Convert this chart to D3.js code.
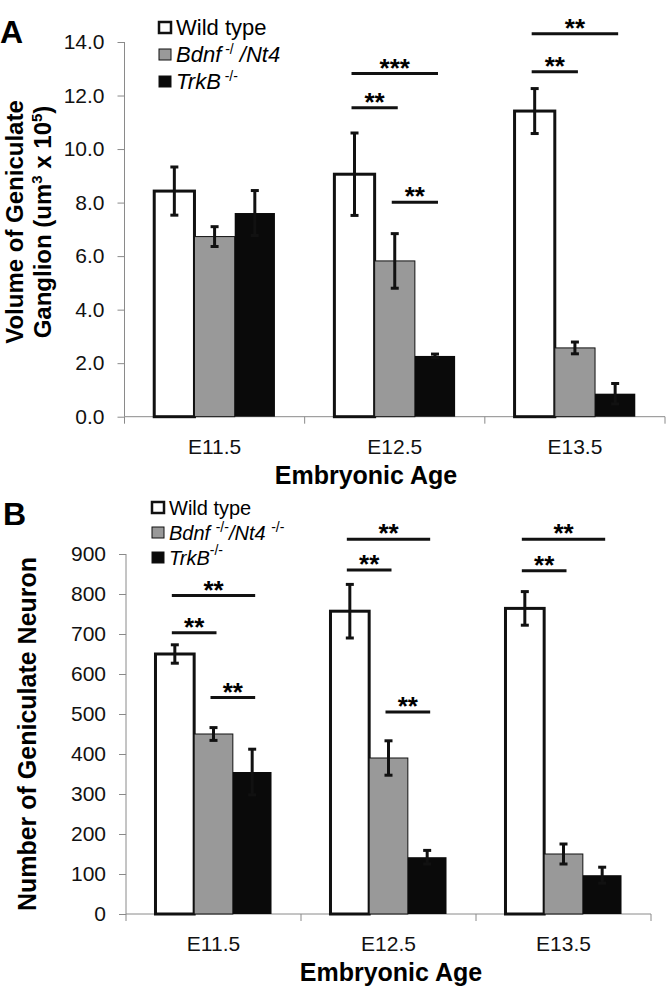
<!DOCTYPE html>
<html>
<head>
<meta charset="utf-8">
<script src="https://cdn.jsdelivr.net/npm/d3@7"></script>
<style>
  body { margin: 0; background: #fff; }
  svg { display: block; font-family: "Liberation Sans", Arial, sans-serif; }
</style>
</head>
<body>
<svg id="chart" width="666" height="987"></svg>
<script>
'use strict';

var ages = ['E11.5', 'E12.5', 'E13.5'];
var genotypes = ['wt', 'bdnf', 'trkb'];

// panel A: ganglion volume (um3 x 10^5)
var volumeWT = [8.43, 9.06, 11.42];
var volumeBdnf = [6.73, 5.82, 2.57];
var volumeTrkB = [7.61, 2.27, 0.86];
var volumeErrWT = [0.9, 1.54, 0.84];
var volumeErrBdnf = [0.37, 1.02, 0.22];
var volumeErrTrkB = [0.84, 0.07, 0.38];
var volumeTicks = [0, 2, 4, 6, 8, 10, 12, 14];
var volumeSig = [
  { age: 'E12.5', from: 0, to: 2, level: 12.82, label: '***' },
  { age: 'E12.5', from: 0, to: 1, level: 11.54, label: '**' },
  { age: 'E12.5', from: 1, to: 2, level: 8.01, label: '**' },
  { age: 'E13.5', from: 0, to: 2, level: 14.31, label: '**' },
  { age: 'E13.5', from: 0, to: 1, level: 12.89, label: '**' }
];

// panel B: neuron number
var neuronWT = [650, 757, 764];
var neuronBdnf = [450, 390, 150];
var neuronTrkB = [355, 142, 97];
var neuronErrWT = [23, 67, 42];
var neuronErrBdnf = [16, 43, 25];
var neuronErrTrkB = [57, 17, 20];
var neuronTicks = [0, 100, 200, 300, 400, 500, 600, 700, 800, 900];
var neuronSig = [
  { age: 'E11.5', from: 0, to: 2, level: 796, label: '**' },
  { age: 'E11.5', from: 0, to: 1, level: 703, label: '**' },
  { age: 'E11.5', from: 1, to: 2, level: 541, label: '**' },
  { age: 'E12.5', from: 0, to: 2, level: 937, label: '**' },
  { age: 'E12.5', from: 0, to: 1, level: 860, label: '**' },
  { age: 'E12.5', from: 1, to: 2, level: 505, label: '**' },
  { age: 'E13.5', from: 0, to: 2, level: 937, label: '**' },
  { age: 'E13.5', from: 0, to: 1, level: 858, label: '**' }
];

var fills = { wt: '#ffffff', bdnf: '#999999', trkb: '#0a0a0a' };
var svg = d3.select('#chart');

function buildRows(values, errs) {
  return ages.map(function (age, i) {
    return {
      age: age,
      bars: genotypes.map(function (g, j) {
        return { key: g, value: values[j][i], err: errs[j][i] };
      })
    };
  });
}

function drawPanel(opt) {
  var x = d3.scaleBand().domain(ages).range([opt.left, opt.right]);
  var groupW = x.bandwidth() * opt.groupFrac;
  var xs = d3.scaleBand().domain(genotypes).range([0, groupW]);
  var y = d3.scaleLinear().domain([0, opt.yMax]).range([opt.bottom, opt.top]);
  var g = svg.append('g');

  function center(age, idx) {
    return x(age) + (x.bandwidth() - groupW) / 2 + xs(genotypes[idx]) + xs.bandwidth() / 2;
  }

  // axes
  var yAxis = d3.axisLeft(y).tickValues(opt.ticks).tickSize(7).tickPadding(13)
      .tickFormat(opt.fmt);
  var ya = g.append('g').attr('transform', 'translate(' + opt.left + ',0)').call(yAxis);
  ya.selectAll('path, line').attr('stroke', '#8a8a8a');
  ya.selectAll('text').attr('font-size', 21).attr('fill', '#111');
  ya.select('.domain').attr('d', 'M0,' + opt.top + 'V' + opt.bottom);

  var xAxis = d3.axisBottom(x).tickSize(0).tickPadding(opt.xPad);
  var xa = g.append('g').attr('transform', 'translate(0,' + opt.bottom + ')').call(xAxis);
  xa.select('.domain').attr('stroke', '#8a8a8a').attr('d', 'M' + opt.left + ',0H' + opt.right);
  xa.selectAll('text').attr('font-size', 21).attr('fill', '#111');
  xa.selectAll('.sep').data(ages.concat(['end'])).enter().append('line')
      .attr('x1', function (d, i) { return opt.left + i * x.bandwidth(); })
      .attr('x2', function (d, i) { return opt.left + i * x.bandwidth(); })
      .attr('y1', 0).attr('y2', 7)
      .attr('stroke', '#8a8a8a');

  // bars
  var groups = g.selectAll('.grp').data(opt.rows).enter().append('g')
      .attr('transform', function (d) {
        return 'translate(' + (x(d.age) + (x.bandwidth() - groupW) / 2) + ',0)';
      });
  groups.selectAll('rect').data(function (d) { return d.bars; }).enter().append('rect')
      .attr('x', function (d) { return xs(d.key); })
      .attr('width', xs.bandwidth())
      .attr('y', function (d) { return y(d.value); })
      .attr('height', function (d) { return y(0) - y(d.value); })
      .attr('fill', function (d) { return fills[d.key]; })
      .attr('stroke', function (d) { return d.key === 'trkb' ? 'none' : '#111'; })
      .attr('stroke-width', function (d) { return d.key === 'wt' ? 3 : 1; });

  // error bars
  var eb = groups.selectAll('.err').data(function (d) { return d.bars; }).enter().append('g')
      .attr('stroke', '#111').attr('stroke-width', 3);
  function cx(d) { return xs(d.key) + xs.bandwidth() / 2; }
  eb.append('line')
      .attr('x1', cx).attr('x2', cx)
      .attr('y1', function (d) { return y(d.value - d.err); })
      .attr('y2', function (d) { return y(d.value + d.err); });
  [-1, 1].forEach(function (s) {
    eb.append('line')
        .attr('x1', function (d) { return cx(d) - 4; })
        .attr('x2', function (d) { return cx(d) + 4; })
        .attr('y1', function (d) { return y(d.value + s * d.err); })
        .attr('y2', function (d) { return y(d.value + s * d.err); });
  });

  // significance marks
  var sig = g.selectAll('.sig').data(opt.sig).enter().append('g');
  sig.append('line')
      .attr('x1', function (d) { return center(d.age, d.from) - 3; })
      .attr('x2', function (d) { return center(d.age, d.to) + 3; })
      .attr('y1', function (d) { return y(d.level); })
      .attr('y2', function (d) { return y(d.level); })
      .attr('stroke', '#111').attr('stroke-width', 3);
  sig.append('text')
      .attr('x', function (d) { return (center(d.age, d.from) + center(d.age, d.to)) / 2; })
      .attr('y', function (d) { return y(d.level) + 3; })
      .attr('text-anchor', 'middle')
      .attr('font-size', 26).attr('font-weight', 'bold')
      .text(function (d) { return d.label; });

  // x title
  g.append('text')
      .attr('x', opt.xTitleX).attr('y', opt.xTitleY)
      .attr('text-anchor', 'middle')
      .attr('font-size', 25).attr('font-weight', 'bold')
      .text('Embryonic Age');

  // panel letter
  g.append('text')
      .attr('x', opt.letterX).attr('y', opt.letterY)
      .attr('font-size', 32).attr('font-weight', 'bold')
      .text(opt.letter);

  // legend
  var lg = g.append('g').attr('transform', 'translate(' + opt.legendX + ',' + opt.legendY + ')');
  opt.legend.forEach(function (item, i) {
    var row = lg.append('g').attr('transform', 'translate(0,' + (i * opt.legendStep) + ')');
    row.append('rect')
        .attr('x', 1).attr('y', -6).attr('width', 12).attr('height', 11)
        .attr('fill', fills[genotypes[i]])
        .attr('stroke', '#111')
        .attr('stroke-width', i === 0 ? 2.5 : 1);
    var t = row.append('text').attr('x', 18).attr('y', 7).attr('font-size', opt.legendSize);
    item.forEach(function (part) {
      var ts = t.append('tspan').text(part.t);
      if (part.i) ts.attr('font-style', 'italic');
      if (part.sup) ts.attr('font-size', 14).attr('dy', part.sup);
      if (part.down) ts.attr('dy', part.down);
    });
  });

  return { x: x, y: y };
}

drawPanel({
  letter: 'A', letterX: 0, letterY: 43,
  left: 124.5, right: 665, top: 42, bottom: 416.7,
  yMax: 14, ticks: volumeTicks, fmt: d3.format('.1f'),
  groupFrac: 0.67, xPad: 22,
  rows: buildRows([volumeWT, volumeBdnf, volumeTrkB], [volumeErrWT, volumeErrBdnf, volumeErrTrkB]),
  sig: volumeSig,
  xTitleX: 366, xTitleY: 484,
  legendX: 158, legendY: 28, legendStep: 27, legendSize: 22,
  legend: [
    [{ t: 'Wild type' }],
    [{ t: 'Bdnf', i: true }, { t: ' -/', sup: -8 }, { t: ' /Nt4', i: true, down: 8 }],
    [{ t: 'TrkB', i: true }, { t: ' -/-', sup: -8 }]
  ]
});

drawPanel({
  letter: 'B', letterX: 3, letterY: 525,
  left: 126, right: 651, top: 554, bottom: 914,
  yMax: 900, ticks: neuronTicks, fmt: d3.format('d'),
  groupFrac: 0.663, xPad: 22,
  rows: buildRows([neuronWT, neuronBdnf, neuronTrkB], [neuronErrWT, neuronErrBdnf, neuronErrTrkB]),
  sig: neuronSig,
  xTitleX: 391, xTitleY: 981,
  legendX: 151, legendY: 508, legendStep: 25, legendSize: 20,
  legend: [
    [{ t: 'Wild type' }],
    [{ t: 'Bdnf ', i: true }, { t: '-/-', sup: -8 }, { t: '/Nt4 ', i: true, down: 8 }, { t: '-/-', sup: -8 }],
    [{ t: 'TrkB', i: true }, { t: '-/-', sup: -10 }]
  ]
});

// y axis titles
var ta = svg.append('text')
    .attr('transform', 'translate(23,222) rotate(-90)')
    .attr('text-anchor', 'middle')
    .attr('font-size', 24).attr('font-weight', 'bold');
ta.append('tspan').attr('x', 0).attr('y', 0).text('Volume of Geniculate');
var l2 = ta.append('tspan').attr('x', 0).attr('y', 28);
l2.append('tspan').text('Ganglion (um');
l2.append('tspan').attr('font-size', 15).attr('dy', -9).text('3');
l2.append('tspan').attr('dy', 9).text(' x 10');
l2.append('tspan').attr('font-size', 15).attr('dy', -9).text('5');
l2.append('tspan').attr('dy', 9).text(')');

svg.append('text')
    .attr('transform', 'translate(36,734) rotate(-90)')
    .attr('text-anchor', 'middle')
    .attr('font-size', 25).attr('font-weight', 'bold')
    .text('Number of Geniculate Neuron');
</script>
</body>
</html>
